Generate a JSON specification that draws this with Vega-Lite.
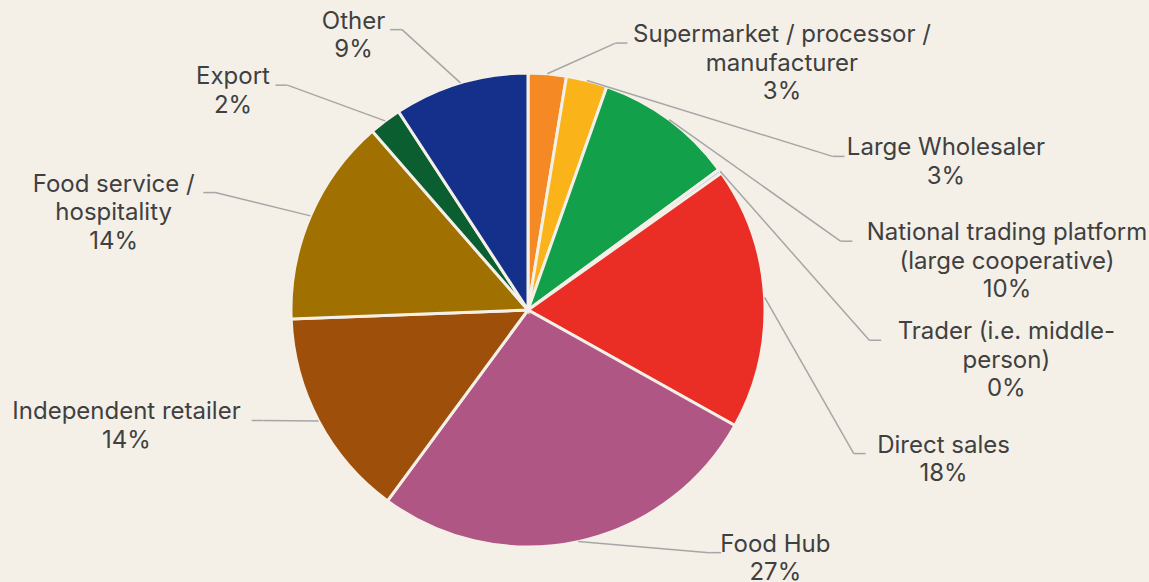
{
  "$schema": "https://vega.github.io/schema/vega-lite/v6.json",
  "width": 1149,
  "height": 582,
  "autosize": "none",
  "padding": 0,
  "background": "#F4F0E8",
  "config": {"view": {"stroke": null}},
  "data": {
    "values": [
      {"order": 1, "cat": "Supermarket / processor / manufacturer", "value": 2.6, "label": ["Supermarket / processor /", "manufacturer", "3%"]},
      {"order": 2, "cat": "Large Wholesaler", "value": 2.8, "label": ["Large Wholesaler", "3%"]},
      {"order": 3, "cat": "National trading platform (large cooperative)", "value": 9.5, "label": ["National trading platform", "(large cooperative)", "10%"]},
      {"order": 4, "cat": "Trader (i.e. middle-person)", "value": 0.3, "label": ["Trader (i.e. middle-", "person)", "0%"]},
      {"order": 5, "cat": "Direct sales", "value": 17.9, "label": ["Direct sales", "18%"]},
      {"order": 6, "cat": "Food Hub", "value": 27.0, "label": ["Food Hub", "27%"]},
      {"order": 7, "cat": "Independent retailer", "value": 14.3, "label": ["Independent retailer", "14%"]},
      {"order": 8, "cat": "Food service / hospitality", "value": 14.2, "label": ["Food service /", "hospitality", "14%"]},
      {"order": 9, "cat": "Export", "value": 2.2, "label": ["Export", "2%"]},
      {"order": 10, "cat": "Other", "value": 9.2, "label": ["Other", "9%"]}
    ]
  },
  "transform": [
    {"window": [{"op": "sum", "field": "value", "as": "cum"}], "sort": [{"field": "order"}], "frame": [null, 0]},
    {"joinaggregate": [{"op": "sum", "field": "value", "as": "total"}]},
    {"calculate": "2*PI*(datum.cum - datum.value/2)/datum.total", "as": "mid"},
    {"calculate": "datum.mid < PI ? 'R' : 'L'", "as": "side"},
    {"window": [{"op": "row_number", "as": "rank"}], "groupby": ["side"], "sort": [{"field": "order"}]},
    {"calculate": "datum.mid < PI ? 1.04 - (datum.rank-1)*0.418 : 0.905*cos(datum.mid) + 0.315*cos(datum.mid)*abs(cos(datum.mid))", "as": "ly"},
    {"calculate": "datum.mid < PI ? 2.05*sqrt(max(0, 1 - pow(datum.ly/1.22, 2))) : 1.6*sin(datum.mid) - 0.28", "as": "lx"},
    {"calculate": "length(datum.label)", "as": "n"},
    {"calculate": "datum.ly + (datum.n-1)/2*0.1203", "as": "t1"},
    {"calculate": "max(length(datum.label[0]), length(datum.label[1] || ''), length(datum.label[2] || ''))", "as": "maxLen"},
    {"calculate": "datum.maxLen*0.0249", "as": "hw"},
    {"calculate": "datum.t1 - 0.034", "as": "endY"},
    {"calculate": "datum.mid < PI ? datum.lx - datum.hw - 0.03 : datum.lx + datum.hw + 0.03", "as": "endX"},
    {"calculate": "datum.mid < PI ? datum.endX - 0.05 : datum.endX + 0.05", "as": "elbX"},
    {"calculate": "1.0*sin(datum.mid)", "as": "ax"},
    {"calculate": "1.0*cos(datum.mid)", "as": "ay"}
  ],
  "layer": [
    {
      "mark": {"type": "arc", "outerRadius": 237, "stroke": "#F4F0E8", "strokeWidth": 3},
      "encoding": {
        "theta": {"field": "value", "type": "quantitative", "stack": true},
        "order": {"field": "order", "type": "quantitative"},
        "x": {"datum": 0, "type": "quantitative", "scale": {"domain": [-2.2278, 2.6203], "nice": false, "zero": false}, "axis": null},
        "y": {"datum": 0, "type": "quantitative", "scale": {"domain": [-1.1477, 1.308], "nice": false, "zero": false}, "axis": null},
        "color": {
          "field": "cat", "type": "nominal", "legend": null,
          "scale": {
            "domain": ["Supermarket / processor / manufacturer", "Large Wholesaler", "National trading platform (large cooperative)", "Trader (i.e. middle-person)", "Direct sales", "Food Hub", "Independent retailer", "Food service / hospitality", "Export", "Other"],
            "range": ["#F58A25", "#FBB31A", "#12A04B", "#C9D3EA", "#EB2E25", "#B05685", "#9E4F0A", "#A07000", "#0A5E2F", "#15308A"]
          }
        }
      }
    },
    {
      "mark": {"type": "rule", "color": "#A6A6A6", "strokeWidth": 1.5},
      "encoding": {
        "x": {"field": "ax", "type": "quantitative"},
        "y": {"field": "ay", "type": "quantitative"},
        "x2": {"field": "elbX"},
        "y2": {"field": "endY"}
      }
    },
    {
      "mark": {"type": "rule", "color": "#A6A6A6", "strokeWidth": 1.5},
      "encoding": {
        "x": {"field": "elbX", "type": "quantitative"},
        "y": {"field": "endY", "type": "quantitative"},
        "x2": {"field": "endX"},
        "y2": {"field": "endY"}
      }
    },
    {
      "mark": {"type": "text", "font": "Inter", "fontSize": 24, "lineHeight": 28.5, "color": "#404040", "align": "center", "baseline": "middle"},
      "encoding": {
        "x": {"field": "lx", "type": "quantitative"},
        "y": {"field": "t1", "type": "quantitative"},
        "text": {"field": "label"}
      }
    }
  ]
}
